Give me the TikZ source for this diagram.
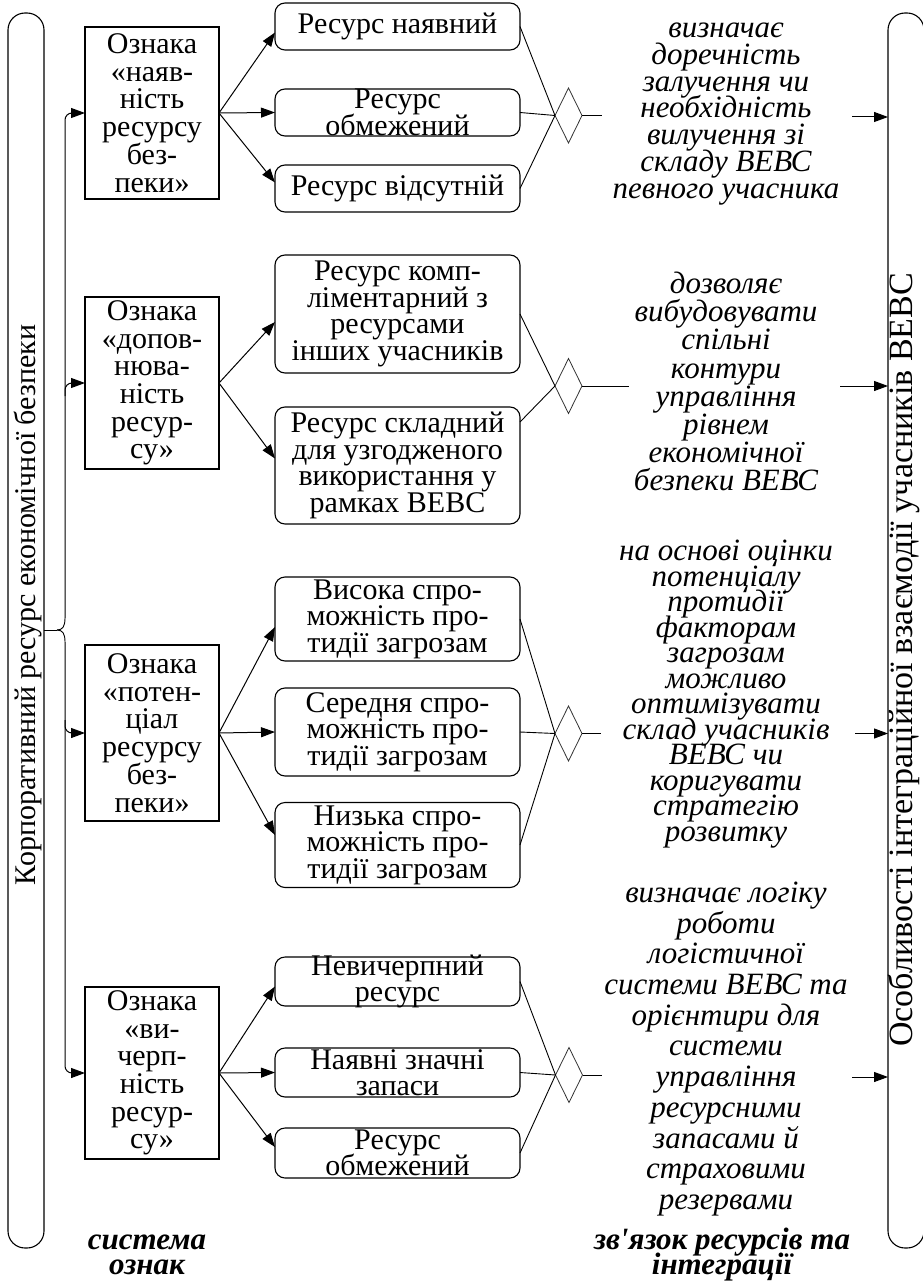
\documentclass[tikz,border=0pt]{standalone}
\usepackage{fontspec}
\setmainfont{Liberation Serif}
\newfontfamily\rawserif{Liberation Serif}
\usetikzlibrary{arrows.meta,shapes.geometric,calc}
\newcommand{\tightlines}{\lineskiplimit=-100pt\relax\lineskip=0pt\relax}
\begin{document}
\begin{tikzpicture}[x=1pt,y=-1pt,
  every node/.style={inner sep=0pt, outer sep=0pt},
  sq/.style={draw, line width=1.1pt, minimum width=134pt},
  rnd/.style={draw, line width=1.1pt, rounded corners=10pt, minimum width=245pt},
  tall/.style={draw, line width=1.1pt, rounded corners=17pt, minimum width=36pt, minimum height=1235pt},
  tx/.style={align=center, font=\fontsize{30}{27.7}\selectfont\tightlines},
  ntx/.style={align=center, font=\fontsize{30}{26.5}\selectfont\tightlines},
  it/.style={align=center, font=\fontsize{31}{#1}\selectfont\itshape\tightlines},
  bit/.style={align=center, font=\fontsize{31}{25}\selectfont\bfseries\itshape\tightlines},
  dia/.style={draw=black!80, diamond, line width=0.8pt, minimum width=27pt, minimum height=55pt},
  arr/.style={line width=1pt, -{Triangle[length=14pt,width=10pt]}},
  ln/.style={line width=0.9pt},
]
\useasboundingbox (0,0) rectangle (922,1281);

% tall side bars
\node[tall] (L) at (26,630.5) {};
\node[tall] (R) at (906,630.5) {};
\node[rotate=90, font=\fontsize{30}{30}\selectfont] (Lt) at (28,605) {Корпоративний ресурс економічної безпеки};
\node[rotate=90, font=\fontsize{34}{34}\selectfont] (Rt) at (904,660) {Особливості інтеграційної взаємодії учасників ВЕВС};

% feature boxes
\node[sq, minimum height=172pt] (b1) at (152,113) {};
\node[tx] (b1t) at (b1) {Ознака\\«наяв-\\ність\\ресурсу\\без-\\пеки»};
\node[sq, minimum height=172pt] (b2) at (152,383) {};
\node[tx] (b2t) at (b2) {Ознака\\«допов-\\нюва-\\ність\\ресур-\\су»};
\node[sq, minimum height=176pt] (b3) at (152,733) {};
\node[tx] (b3t) at (b3) {Ознака\\«потен-\\ціал\\ресурсу\\без-\\пеки»};
\node[sq, minimum height=172pt] (b4) at (152,1073) {};
\node[tx] (b4t) at (b4) {Ознака\\«ви-\\черп-\\ність\\ресур-\\су»};

% rounded resource nodes
\node[rnd, minimum height=47pt] (r11) at (397.5,26.5) {};
\node[ntx] (r11t) at (r11) {Ресурс наявний};
\node[rnd, minimum height=47pt] (r12) at (397.5,112.5) {};
\node[ntx] (r12t) at (r12) {Ресурс\\обмежений};
\node[rnd, minimum height=47pt] (r13) at (397.5,188.5) {};
\node[ntx] (r13t) at (r13) {Ресурс відсутній};

\node[rnd, minimum height=118pt] (r21) at (397.5,314) {};
\node[ntx] (r21t) at (r21) {Ресурс комп-\\лімен­тарний з\\ресурсами\\інших учасників};
\node[rnd, minimum height=117pt] (r22) at (397.5,465.5) {};
\node[ntx] (r22t) at (r22) {Ресурс складний\\для узгодженого\\використання у\\рамках ВЕВС};

\node[rnd, minimum height=84pt] (r31) at (397.5,619) {};
\node[ntx] (r31t) at (r31) {Висока спро-\\можність про-\\тидії загрозам};
\node[rnd, minimum height=88pt] (r32) at (397.5,732) {};
\node[ntx] (r32t) at (r32) {Середня спро-\\можність про-\\тидії загрозам};
\node[rnd, minimum height=85pt] (r33) at (397.5,845) {};
\node[ntx] (r33t) at (r33) {Низька спро-\\можність про-\\тидії загрозам};

\node[rnd, minimum height=49pt] (r41) at (397.5,981.5) {};
\node[ntx] (r41t) at (r41) {Невичерпний\\ресурс};
\node[rnd, minimum height=49pt] (r42) at (397.5,1072.5) {};
\node[ntx] (r42t) at (r42) {Наявні значні\\запаси};
\node[rnd, minimum height=50pt] (r43) at (397.5,1153) {};
\node[ntx] (r43t) at (r43) {Ресурс\\обмежений};

% diamonds
\node[dia] (d1) at (568.5,115.5) {};
\node[dia] (d2) at (568.5,386) {};
\node[dia] (d3) at (568.5,733.5) {};
\node[dia] (d4) at (569,1075) {};

% italic explanation texts
\node[it=26.7] (t1) at (726,114) {визначає\\доречність\\залучення чи\\необхідність\\вилучення зі\\складу ВЕВС\\певного учасника};
\node[it=28.1] (t2) at (726,381.5) {дозволяє\\вибудовувати\\спільні\\контури\\управління\\рівнем\\економічної\\безпеки ВЕВС};
\node[it=25.5] (t3) at (726,694) {на основі оцінки\\потенціалу\\протидії\\факторам\\загрозам\\можливо\\оптимізувати\\склад учасників\\ВЕВС чи\\коригувати\\стратегію\\розвитку};
\node[it=30.7] (t4) at (726,1049) {визначає логіку\\роботи\\логістичної\\системи ВЕВС та\\орієнтири для\\системи\\управління\\ресурсними\\запасами й\\страховими\\резервами};

% bottom captions
\node[bit] (c1) at (147,1254.5) {система\\ознак};
\node[bit] (c2) at (722,1254.5) {зв{\rawserif'}язок ресурсів та\\інтеграції};

% brace from the left bar
\coordinate (bt) at (57,630);
\coordinate (bu) at (65,618);
\coordinate (bd) at (65,642);
\coordinate (k2) at (65,396);
\coordinate (k3) at (65,720);
\draw[ln] (L.east |- bt) -- (bt);
\draw[ln] (bt) .. controls (63,630) and (65,626) .. (bu);
\draw[ln] (bt) .. controls (63,630) and (65,634) .. (bd);
\draw[arr, rounded corners=7pt] (bu) |- (b1.west);
\draw[arr, rounded corners=7pt] (k2) |- (b2.west);
\draw[arr, rounded corners=7pt] (k3) |- (b3.west);
\draw[arr, rounded corners=7pt] (bd) |- (b4.west);

% boxes to resource nodes
\draw[arr] (b1.east) -- ([yshift=-6pt]r11.west);
\draw[arr] (b1.east) -- (r12.west);
\draw[arr] (b1.east) -- ([yshift=6pt]r13.west);
\draw[arr] (b2.east) -- ([yshift=-8pt]r21.west);
\draw[arr] (b2.east) -- ([yshift=7pt]r22.west);
\draw[arr] (b3.east) -- ([yshift=-8pt]r31.west);
\draw[arr] (b3.east) -- (r32.west);
\draw[arr] (b3.east) -- ([yshift=10pt]r33.west);
\draw[arr] (b4.east) -- ([yshift=-5pt]r41.west);
\draw[arr] (b4.east) -- (r42.west);
\draw[arr] (b4.east) -- ([yshift=6pt]r43.west);

% resource nodes to diamonds
\draw[ln] (r11.east) -- (d1.west);
\draw[ln] (r12.east) -- (d1.west);
\draw[ln] (r13.east) -- (d1.west);
\draw[ln] (r21.east) -- (d2.west);
\draw[ln] ([yshift=43.5pt]r22.east) -- (d2.west);
\draw[ln] (r31.east) -- (d3.west);
\draw[ln] (r32.east) -- (d3.west);
\draw[ln] (r33.east) -- (d3.west);
\draw[ln] (r41.east) -- (d4.west);
\draw[ln] (r42.east) -- (d4.west);
\draw[ln] (r43.east) -- (d4.west);

% diamond tails
\coordinate (e1) at (602,115.5);
\coordinate (e2) at (629,386);
\coordinate (e3) at (601,733.5);
\coordinate (e4) at (602,1075);
\draw[ln] (d1.east) -- (e1);
\draw[ln] (d2.east) -- (e2);
\draw[ln] (d3.east) -- (e3);
\draw[ln] (d4.east) -- (e4);

% arrows into the right bar
\coordinate (f1) at (852,117);
\coordinate (f2) at (840,386);
\coordinate (f3) at (855,733.5);
\coordinate (f4) at (852,1077);
\draw[arr] (f1) -- (f1 -| R.west);
\draw[arr] (f2) -- (f2 -| R.west);
\draw[arr] (f3) -- (f3 -| R.west);
\draw[arr] (f4) -- (f4 -| R.west);
\end{tikzpicture}
\end{document}
